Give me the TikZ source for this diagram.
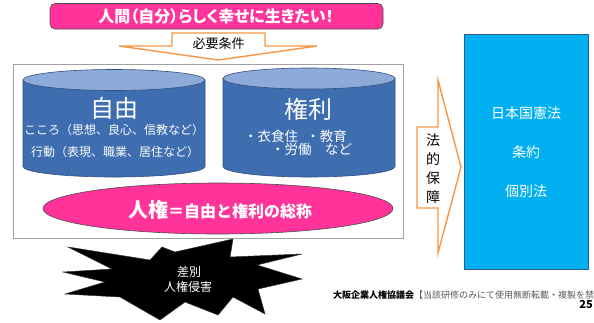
\documentclass[tikz,border=0pt]{standalone}
\usepackage{fontspec}
\setmainfont{Noto Sans CJK JP}
\newfontfamily\jpp[RawFeature=+palt]{Noto Sans CJK JP}
\usetikzlibrary{shapes.geometric}
\definecolor{pinkc}{HTML}{FF3399}
\definecolor{orangec}{HTML}{F79646}
\definecolor{cylbody}{HTML}{3E6DB0}
\definecolor{cyltop}{HTML}{8EAAD8}
\definecolor{cylline}{HTML}{2F4F80}
\definecolor{skyc}{HTML}{00B0F0}
\definecolor{skyline}{HTML}{2E5A8C}
\definecolor{framec}{HTML}{A0A0A0}
\definecolor{footgray}{HTML}{595959}
\newcommand{\fs}[1]{\fontsize{#1}{#1}\selectfont}
\begin{document}
\begin{tikzpicture}[x=1pt,y=-1pt,
  cylbox/.style={fill=cylbody,draw=cylline,line width=0.6pt},
  cyllid/.style={fill=cyltop,draw=cylline,line width=0.6pt},
  wtext/.style={text=white,inner sep=0pt},
  ktext/.style={text=black,inner sep=0pt},
  orangearrow/.style={fill=white,draw=orangec,line width=1.4pt,line join=miter}]
\useasboundingbox (0,0) rectangle (594,322);
\fill[white] (0,0) rectangle (594,322);

% top banner
\draw[fill=pinkc,draw=black!70,line width=0.6pt,rounded corners=5pt] (50,3.5) rectangle (383,29);
\node[wtext] (banner) at (216,16.5) {\jpp\bfseries\fs{16}人間（自分）らしく幸せに生きたい！};

% down arrow
\draw[orangearrow] (172,33) -- (265,33) -- (265,46) -- (317,46) -- (218.5,60) -- (119,46) -- (172,46) -- cycle;
\node[ktext] (need) at (218.5,43.5) {\fs{13}必要条件};

% outer frame
\draw[draw=framec,line width=1pt,fill=white] (13,64) rectangle (403,238);

% left cylinder
\path[cylbox] (23,80) -- (23,166.5) arc[start angle=180,end angle=0,x radius=91,y radius=10.5] -- (205,80) -- cycle;
\path[cyllid] (114,80) ellipse[x radius=91,y radius=10.5];
\node[wtext] (jiyu) at (114,108) {\fs{24}自由};
\node[wtext] (kokoro) at (114,130) {\fs{12}こころ（思想、良心、信教など）};
\node[wtext] (kodo) at (115,152) {\fs{12}行動（表現、職業、居住など）};

% right cylinder
\path[cylbox] (223,78.5) -- (223,166.5) arc[start angle=180,end angle=0,x radius=86,y radius=10.5] -- (395,78.5) -- cycle;
\path[cyllid] (309,78.5) ellipse[x radius=86,y radius=10.5];
\node[wtext] (kenri) at (308,109) {\fs{24}権利};
\node[wtext,align=left,anchor=north west,font={\fontsize{13.5}{13}\selectfont}] (goods) at (244,130) {・衣食住\hspace{0.6em}・教育\\\hspace{2em}・労働\hspace{1em}など};

% pink ellipse
\path[fill=pinkc,draw=black!70,line width=0.6pt] (218,208.5) ellipse[x radius=175,y radius=25.5];
\node[wtext] (jinken) at (220,210) {\bfseries\fs{20}人権\fs{16}＝自由と権利の総称};

% starburst
\path[fill=black,draw=black!80,line width=0.5pt] (68,247) -- (112,269) -- (63,272) -- (105,282) -- (65,294) -- (120,297) -- (160,320) -- (185,302) -- (218,315) -- (233,297) -- (265,314) -- (258,289) -- (302,279) -- (257,265) -- (302,254) -- (230,257) -- (233,239) -- (175,252) -- (162,247) -- (150,260) -- cycle;
\node[wtext] (sabetsu) at (189,272) {\fs{12}差別};
\node[wtext] (shingai) at (188,287) {\fs{12}人権侵害};

% right arrow
\draw[orangearrow] (417,127) -- (438,127) -- (438,80) -- (461,167) -- (438,253) -- (438,208) -- (417,208) -- cycle;
\node[ktext,align=center,font={\fontsize{14}{19}\selectfont}] (hoteki) at (433,168.5) {法\\的\\保\\障};

% blue box
\draw[fill=skyc,draw=skyline,line width=0.8pt] (464,34) rectangle (588,269);
\node[wtext] (kenpo) at (526,113) {\fs{14}日本国憲法};
\node[wtext] (joyaku) at (526,152.5) {\fs{14}条約};
\node[wtext] (kobetsu) at (526,191.5) {\fs{14}個別法};

% footer
\node[ktext,anchor=west] (foot) at (333,295) {\fs{9}\textbf{大阪企業人権協議会}\textcolor{footgray}{【当該研修のみにて使用無断転載・複製を禁}};
\node[ktext,anchor=east] (page) at (593,304) {\bfseries\fs{11}25};
\end{tikzpicture}
\end{document}
